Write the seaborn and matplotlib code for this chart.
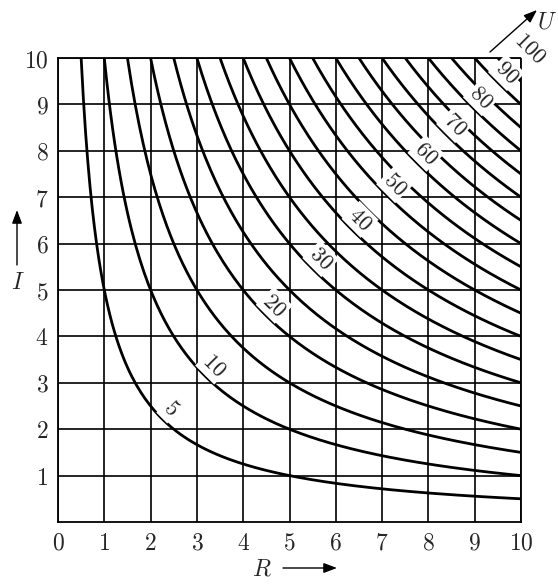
import numpy as np
import pandas as pd
import seaborn as sns
import matplotlib.pyplot as plt
from matplotlib.ticker import FuncFormatter

# Voltage levels U = R * I for each hyperbola
u_levels = [5, 10, 15, 20, 25, 30, 35, 40, 45, 50,
            55, 60, 65, 70, 75, 80, 85, 90, 95, 100]
labeled_levels = [5, 10, 20, 30, 40, 50, 60, 70, 80, 90, 100]
r_ticks = [0, 1, 2, 3, 4, 5, 6, 7, 8, 9, 10]
i_ticks = [1, 2, 3, 4, 5, 6, 7, 8, 9, 10]

sns.set_style("white")
plt.rcParams['mathtext.fontset'] = 'cm'
plt.rcParams['font.family'] = ['DejaVu Serif']

# Build a long table of curve points
rows = []
for u in u_levels:
    r = np.linspace(u / 10, 10, 200)
    for rv in r:
        rows.append((u, rv, u / rv))
df = pd.DataFrame(rows, columns=["U", "R", "I"])

fig = plt.figure(figsize=(5.58, 5.85), dpi=100)
ax = fig.add_axes([58 / 558, 1 - 522 / 585, 463 / 558, 464 / 585])

sns.lineplot(data=df, x="R", y="I", hue="U", units="U", estimator=None,
             sort=False, palette=["black"] * len(u_levels), legend=False,
             linewidth=2.0, ax=ax, zorder=3)

ax.set_xlim(0, 10)
ax.set_ylim(0, 10)
ax.set_xticks(r_ticks)
ax.set_yticks(i_ticks)
ax.grid(True, color="black", linewidth=1.2)
ax.set_axisbelow(True)
for s in ax.spines.values():
    s.set_color("black")
    s.set_linewidth(1.3)
ax.tick_params(length=0, labelsize=17, pad=7)
ax.xaxis.set_major_formatter(FuncFormatter(lambda v, p: f"${v:g}$"))
ax.yaxis.set_major_formatter(FuncFormatter(lambda v, p: f"${v:g}$"))
ax.set_xlabel("")
ax.set_ylabel("")

# Curve labels, written across the curves
for u in labeled_levels:
    p = np.sqrt(u) + 0.2
    ax.text(p, p, f"${u}$", rotation=-45, ha="center", va="center",
            fontsize=16, zorder=5, clip_on=False,
            bbox=dict(boxstyle="square,pad=0.08", facecolor="white",
                      edgecolor="none"))

# Axis names with arrows
def fx(px):
    return px / 558

def fy(py):
    return 1 - py / 585

arrow = dict(arrowstyle="-|>,head_length=0.8,head_width=0.3",
             color="black", linewidth=1.0, shrinkA=0, shrinkB=0)
fig.text(fx(18), fy(282), "$I$", fontsize=17, ha="center", va="center")
ax.annotate("", xy=(fx(17), fy(210)), xytext=(fx(17), fy(265)),
            xycoords="figure fraction", textcoords="figure fraction",
            arrowprops=arrow)
fig.text(fx(262), fy(569), "$R$", fontsize=17, ha="center", va="center")
ax.annotate("", xy=(fx(337), fy(568)), xytext=(fx(283), fy(568)),
            xycoords="figure fraction", textcoords="figure fraction",
            arrowprops=arrow)
fig.text(fx(547), fy(22), "$U$", fontsize=17, ha="center", va="center")
ax.annotate("", xy=(fx(537), fy(10)), xytext=(fx(490), fy(52)),
            xycoords="figure fraction", textcoords="figure fraction",
            arrowprops=arrow)

fig.savefig("out.png", dpi=100)
